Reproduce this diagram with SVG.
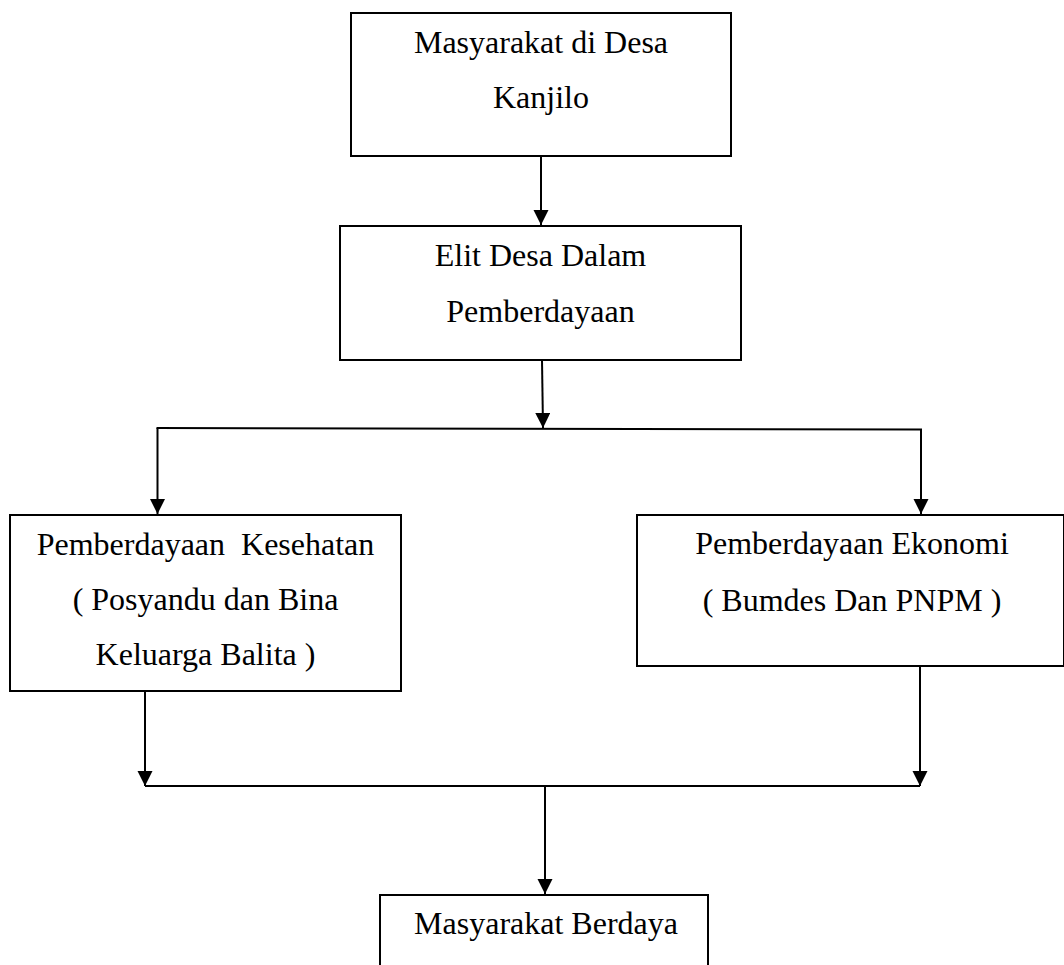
<svg xmlns="http://www.w3.org/2000/svg" width="1064" height="965" viewBox="0 0 1064 965">
<style>
.box{fill:#fff;stroke:#000;stroke-width:2}
.t{font-family:"Liberation Serif","Times New Roman",serif;font-size:32px;fill:#000;text-anchor:middle}
.c{fill:none;stroke:#000;stroke-width:2}
</style>
<defs>
<marker id="ah" markerUnits="userSpaceOnUse" markerWidth="16" markerHeight="16" viewBox="0 0 16 16" refX="15" refY="7.5" orient="auto">
<path d="M0,0 L15,7.5 L0,15 Z" fill="#000"/>
</marker>
</defs>
<rect width="1064" height="965" fill="#fff"/>
<g id="n1">
<rect class="box" x="351" y="13" width="380" height="143"/>
<text class="t" x="541" y="53">Masyarakat di Desa</text>
<text class="t" x="541" y="108">Kanjilo</text>
</g>
<g id="n2">
<rect class="box" x="340" y="226" width="401" height="134"/>
<text class="t" x="540.5" y="266">Elit Desa Dalam</text>
<text class="t" x="540.5" y="321.5">Pemberdayaan</text>
</g>
<g id="n3">
<rect class="box" x="10" y="515" width="391" height="176"/>
<text class="t" x="205.5" y="555" xml:space="preserve">Pemberdayaan  Kesehatan</text>
<text class="t" x="205.5" y="610">( Posyandu dan Bina</text>
<text class="t" x="205.5" y="665">Keluarga Balita )</text>
</g>
<g id="n4">
<rect class="box" x="637" y="515" width="427" height="151"/>
<text class="t" x="852" y="554">Pemberdayaan Ekonomi</text>
<text class="t" x="852" y="610.5">( Bumdes Dan PNPM )</text>
</g>
<g id="n5">
<rect class="box" x="380" y="895" width="328" height="80"/>
<text class="t" x="546" y="934">Masyarakat Berdaya</text>
</g>
<g id="connectors">
<line class="c" x1="541" y1="156" x2="541" y2="225" marker-end="url(#ah)"/>
<line class="c" x1="542" y1="360" x2="543" y2="428" marker-end="url(#ah)"/>
<line class="c" x1="156.5" y1="428" x2="922" y2="429.5"/>
<line class="c" x1="157.5" y1="428" x2="157.5" y2="514" marker-end="url(#ah)"/>
<line class="c" x1="921" y1="429.5" x2="921" y2="514" marker-end="url(#ah)"/>
<line class="c" x1="145" y1="691" x2="145" y2="786" marker-end="url(#ah)"/>
<line class="c" x1="920" y1="666" x2="920" y2="786" marker-end="url(#ah)"/>
<line class="c" x1="145" y1="786" x2="920" y2="786"/>
<line class="c" x1="545" y1="786" x2="545" y2="894" marker-end="url(#ah)"/>
</g>
</svg>
